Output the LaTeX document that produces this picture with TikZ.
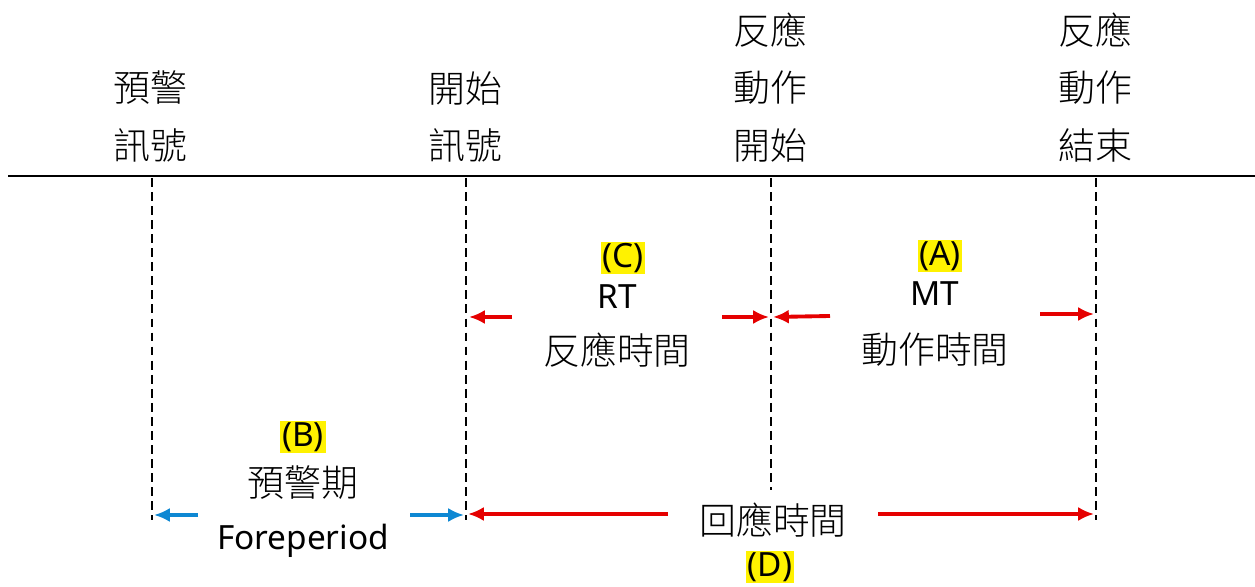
\documentclass[tikz,border=0pt]{standalone}
\usepackage{fontspec}
\setmainfont{Noto Sans}
\newfontfamily\cjk{Noto Sans CJK TC Light}
\usetikzlibrary{positioning}
\tikzset{
  lbl/.style={font=\cjk\fontsize{21}{24}\selectfont, inner sep=1pt},
  tag/.style={font=\fontsize{19}{22}\selectfont, fill=yellow, inner sep=1pt},
  eng/.style={font=\fontsize{19}{22}\selectfont, inner sep=1pt},
  event line/.style={dash pattern=on 5pt off 3pt, line width=1.3pt},
  red arr/.style={->, >={latex[length=9pt,width=8pt]}, red!90!black, line width=2.2pt},
  blue arr/.style={->, >={latex[length=9pt,width=8pt]}, cyan!70!blue, line width=2.2pt}
}
\usetikzlibrary{arrows.meta}
\tikzset{
  red arr/.style={-{Latex[length=9pt,width=8pt]}, red!90!black, line width=2.2pt},
  blue arr/.style={-{Latex[length=9pt,width=8pt]}, cyan!70!blue, line width=2.2pt}
}
\begin{document}
\begin{tikzpicture}[x=0.02cm, y=-0.02cm]
  \useasboundingbox (0,0) rectangle (1255,587);
  % time axis
  \draw[line width=0.8pt] (8,176) -- (1255,176);
  \foreach \n/\x/\y in {warn/152/520, start/466/520, react/771/490, done/1096/520} {
    \coordinate (\n top) at (\x,178);
    \coordinate (\n bot) at (\x,\y);
    \draw[event line] (\n top) -- (\n bot);
  }
  % top labels
  \node[lbl] (warn1) at (150,88) {預警};
  \node[lbl] (warn2) at (150,145) {訊號};
  \node[lbl] (start1) at (465,88) {開始};
  \node[lbl] (start2) at (465,145) {訊號};
  \node[lbl] (react1) at (770,30) {反應};
  \node[lbl] (react2) at (770,88) {動作};
  \node[lbl] (react3) at (770,145) {開始};
  \node[lbl] (done1) at (1095,30) {反應};
  \node[lbl] (done2) at (1095,88) {動作};
  \node[lbl] (done3) at (1095,145) {結束};
  % RT
  \node[tag] (c) at (623,258) {(C)};
  \node[eng] (rt) at (617,297) {RT};
  \node[lbl] (rtcn) at (617,350) {反應時間};
  \coordinate (rtl) at (512,317);
  \coordinate (rtr) at (722,317);
  \draw[red arr] (rtl) -- (469,317);
  \draw[red arr] (rtr) -- (769,317);
  % MT
  \node[tag] (a) at (940,256) {(A)};
  \node[eng] (mt) at (935,294) {MT};
  \node[lbl] (mtcn) at (935,350) {動作時間};
  \coordinate (mtl) at (830,316);
  \coordinate (mtr) at (1040,314);
  \draw[red arr] (mtl) -- (773,317);
  \draw[red arr] (mtr) -- (1094,314);
  % foreperiod
  \node[tag] (b) at (303,437) {(B)};
  \node[lbl] (fpcn) at (303,483) {預警期};
  \node[eng] (fp) at (303,541) {Foreperiod};
  \coordinate (fpl) at (198,515);
  \coordinate (fpr) at (410,515);
  \draw[blue arr] (fpl) -- (154,515);
  \draw[blue arr] (fpr) -- (464,515);
  % response time
  \node[lbl] (rscn) at (773,520) {回應時間};
  \node[tag] (d) at (770,567) {(D)};
  \coordinate (rsl) at (668,514);
  \coordinate (rsr) at (878,514);
  \draw[red arr] (rsl) -- (468,514);
  \draw[red arr] (rsr) -- (1094,514);
\end{tikzpicture}
\end{document}
